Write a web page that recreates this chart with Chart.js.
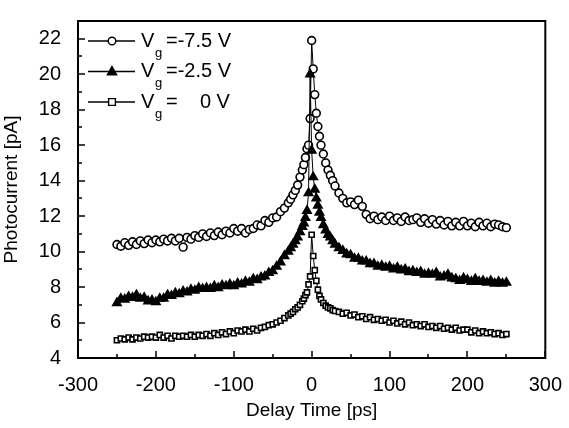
<!DOCTYPE html>
<html>
<head>
<meta charset="utf-8">
<script src="https://cdn.jsdelivr.net/npm/chart.js@4"></script>
<style>
  html, body { margin: 0; padding: 0; background: #fff; }
  #wrap { width: 569px; height: 428px; }
</style>
</head>
<body>
<div id="wrap"><canvas id="photoChart" width="569" height="428"></canvas></div>
<script>
// delay times [ps], shared by the three curves
const delay = [
  -250, -245, -240, -235, -230, -225, -220, -215, -210, -205,
  -200, -195, -190, -185, -180, -175, -170, -165, -160, -155,
  -150, -145, -140, -135, -130, -125, -120, -115, -110, -105,
  -100, -95, -90, -85, -80, -75, -70, -65, -60, -55,
  -50, -45, -40, -35, -30,
  -27, -24, -21, -18, -15, -12, -10, -8, -6, -4, -2, 0,
  2, 4, 6, 8, 10, 12, 15, 18, 21, 24, 27,
  30, 35, 40, 45, 50, 55, 60, 65, 70, 75,
  80, 85, 90, 95, 100, 105, 110, 115, 120, 125,
  130, 135, 140, 145, 150, 155, 160, 165, 170, 175,
  180, 185, 190, 195, 200, 205, 210, 215, 220, 225,
  230, 235, 240, 245, 250,
];

// photocurrent [pA], Vg = -7.5 V (open circles)
const currentVg75 = [
  10.4, 10.3, 10.5, 10.35, 10.55, 10.4, 10.6, 10.45, 10.65, 10.5,
  10.65, 10.55, 10.7, 10.6, 10.75, 10.6, 10.75, 10.25, 10.8, 10.7,
  10.9, 10.8, 11.0, 10.85, 11.05, 10.9, 11.1, 10.95, 11.15, 11.05,
  11.3, 11.15, 11.3, 11.05, 11.25, 11.3, 11.5, 11.45, 11.75, 11.65,
  11.9, 11.95, 12.25, 12.45, 12.75,
  12.95, 13.2, 13.45, 13.75, 14.2, 14.6, 14.9, 15.3, 15.8, 16.0, 17.5, 21.9,
  20.3, 18.85, 17.8, 17.05, 16.5, 16.0, 15.5, 15.0, 14.6, 14.3, 14.0,
  13.7, 13.3, 13.0, 12.75, 12.8, 12.65, 12.9, 12.55, 12.1, 11.85,
  12.0, 11.8, 11.95, 11.75, 12.0, 11.75, 11.9, 11.7, 11.95, 11.75,
  11.8, 11.9, 11.65, 11.85, 11.6, 11.8, 11.55, 11.75, 11.5, 11.7,
  11.45, 11.65, 11.45, 11.7, 11.45, 11.6, 11.4, 11.65, 11.45, 11.6,
  11.4, 11.55, 11.5, 11.4, 11.35,
];

// photocurrent [pA], Vg = -2.5 V (filled triangles)
const currentVg25 = [
  7.1, 7.35, 7.3, 7.45, 7.4, 7.55, 7.35, 7.4, 7.2, 7.25,
  7.15, 7.35, 7.35, 7.55, 7.5, 7.65, 7.6, 7.75, 7.7, 7.85,
  7.8, 7.95, 7.9, 7.95, 7.9, 8.05, 7.95, 8.1, 8.05, 8.15,
  8.05, 8.2, 8.15, 8.3, 8.25, 8.45, 8.4, 8.55, 8.6, 8.8,
  8.9, 9.15, 9.4, 9.75, 10.0,
  10.2, 10.4, 10.6, 10.8, 11.1, 11.4, 11.6, 11.9, 12.3, 13.3, 20.0, 15.7,
  14.2, 13.5, 13.0, 12.6, 12.2, 11.9, 11.5, 11.2, 10.95, 10.8, 10.6,
  10.4, 10.2, 10.05, 9.85, 9.8, 9.6, 9.6, 9.45, 9.45, 9.3,
  9.3, 9.15, 9.2, 9.1, 9.15, 9.0, 9.1, 8.95, 9.0, 8.85,
  8.9, 8.8, 8.85, 8.7, 8.75, 8.7, 8.8, 8.55, 8.6, 8.7,
  8.5, 8.45, 8.35, 8.5, 8.4, 8.3, 8.45, 8.3, 8.35, 8.25,
  8.35, 8.2, 8.3, 8.2, 8.25,
];

// photocurrent [pA], Vg = 0 V (open squares)
const currentVg0 = [
  5.0, 5.1, 5.05, 5.15, 5.05, 5.15, 5.1, 5.2, 5.15, 5.2,
  5.15, 5.3, 5.15, 5.25, 5.1, 5.25, 5.2, 5.25, 5.2, 5.3,
  5.2, 5.3, 5.25, 5.35, 5.25, 5.4, 5.3, 5.45, 5.35, 5.5,
  5.4, 5.55, 5.5, 5.6, 5.5, 5.65, 5.55, 5.7, 5.75, 5.85,
  5.9, 6.0, 6.1, 6.25, 6.4,
  6.5, 6.6, 6.75, 6.85, 7.0, 7.2, 7.35, 7.55, 7.7, 8.15, 8.6, 10.95,
  9.75, 8.95, 8.35, 7.85, 7.5, 7.3, 7.1, 6.95, 6.85, 6.8, 6.7,
  6.65, 6.6, 6.5, 6.55, 6.4, 6.45, 6.3, 6.35, 6.2, 6.3,
  6.15, 6.2, 6.1, 6.15, 6.0, 6.1, 5.95, 6.05, 5.9, 6.0,
  5.85, 5.9, 5.8, 5.9, 5.75, 5.8, 5.7, 5.8, 5.65, 5.7,
  5.6, 5.7, 5.55, 5.6, 5.6, 5.45, 5.55, 5.4, 5.5, 5.4,
  5.45, 5.35, 5.4, 5.3, 5.35,
];

const xTicks = [-300, -200, -100, 0, 100, 200, 300];
const yTicks = [4, 6, 8, 10, 12, 14, 16, 18, 20, 22];
const legendText = ["=-7.5 V", "=-2.5 V", "=    0 V"];

const FONT = "'Liberation Sans', Arial, sans-serif";

function toPoints(ys) {
  return delay.map((x, i) => ({ x: x, y: ys[i] }));
}

function drawMarker(ctx, style, x, y) {
  ctx.beginPath();
  if (style === "circle") {
    ctx.arc(x, y, 3.8, 0, Math.PI * 2);
    ctx.fillStyle = "#fff";
  } else if (style === "triangle") {
    ctx.moveTo(x, y - 5);
    ctx.lineTo(x + 4.6, y + 3.3);
    ctx.lineTo(x - 4.6, y + 3.3);
    ctx.closePath();
    ctx.fillStyle = "#000";
  } else {
    ctx.rect(x - 3.4, y - 3.4, 6.8, 6.8);
    ctx.fillStyle = "#fff";
  }
  ctx.fill();
  ctx.stroke();
}

const markerStyles = ["circle", "triangle", "rect"];

const framePlugin = {
  id: "frame",
  afterDraw(chart) {
    const { ctx, chartArea: a, scales } = chart;
    ctx.save();
    ctx.strokeStyle = "#000";

    // tick marks point into the plot
    ctx.lineWidth = 1.5;
    ctx.beginPath();
    for (let v = -300; v <= 300; v += 50) {
      const px = Math.round(scales.x.getPixelForValue(v));
      const len = xTicks.includes(v) ? 7 : 4;
      ctx.moveTo(px, a.bottom);
      ctx.lineTo(px, a.bottom - len);
    }
    for (let v = 4; v <= 23; v += 1) {
      const py = Math.round(scales.y.getPixelForValue(v));
      const len = yTicks.includes(v) ? 7 : 4;
      ctx.moveTo(a.left, py);
      ctx.lineTo(a.left + len, py);
    }
    ctx.stroke();

    ctx.lineWidth = 2;
    ctx.strokeRect(a.left, a.top, a.right - a.left, a.bottom - a.top);

    // legend, top left inside the box
    const lx = a.left + 10;
    legendText.forEach((txt, i) => {
      const ly = a.top + 20 + i * 30.5;
      ctx.lineWidth = 1.3;
      ctx.strokeStyle = "#000";
      ctx.beginPath();
      ctx.moveTo(lx, ly);
      ctx.lineTo(lx + 47, ly);
      ctx.stroke();
      ctx.lineWidth = 1.4;
      drawMarker(ctx, markerStyles[i], lx + 24, ly);

      ctx.fillStyle = "#000";
      ctx.textBaseline = "middle";
      ctx.textAlign = "left";
      ctx.font = "20px " + FONT;
      ctx.fillText("V", lx + 53, ly);
      ctx.font = "13px " + FONT;
      ctx.fillText("g", lx + 67, ly + 12);
      ctx.font = "20px " + FONT;
      ctx.fillText(txt, lx + 78, ly);
    });
    ctx.restore();
  },
};

const seriesDef = [
  { label: "Vg=0 V", data: currentVg0, style: "rect", fill: "#fff", r: 3.6 },
  { label: "Vg=-2.5 V", data: currentVg25, style: "triangle", fill: "#000", r: 4.8 },
  { label: "Vg=-7.5 V", data: currentVg75, style: "circle", fill: "#fff", r: 3.9 },
];

const ctx = document.getElementById("photoChart").getContext("2d");
new Chart(ctx, {
  type: "line",
  data: {
    datasets: seriesDef.map((s) => ({
      label: s.label,
      data: toPoints(s.data),
      borderColor: "#000",
      borderWidth: 1,
      tension: 0,
      pointStyle: s.style,
      pointRadius: s.r,
      pointBackgroundColor: s.fill,
      pointBorderColor: "#000",
      pointBorderWidth: 1.6,
      fill: false,
    })),
  },
  options: {
    responsive: false,
    animation: false,
    devicePixelRatio: 1,
    layout: { padding: { top: 8, right: 18, left: 0, bottom: 0 } },
    plugins: { legend: { display: false }, tooltip: { enabled: false } },
    scales: {
      x: {
        type: "linear",
        min: -300,
        max: 300,
        afterBuildTicks: (s) => { s.ticks = xTicks.map((v) => ({ value: v })); },
        afterFit: (s) => { s.height = 70; },
        grid: { display: false },
        border: { display: false },
        ticks: { color: "#000", padding: 7, maxRotation: 0, font: { family: FONT, size: 20 } },
        title: {
          display: true,
          text: "Delay Time [ps]",
          color: "#000",
          font: { family: FONT, size: 19 },
          padding: { top: 0, bottom: 6 },
        },
      },
      y: {
        min: 4,
        max: 23,
        afterBuildTicks: (s) => { s.ticks = yTicks.map((v) => ({ value: v })); },
        afterFit: (s) => { s.width = 78; },
        grid: { display: false },
        border: { display: false },
        ticks: { color: "#000", padding: 9, font: { family: FONT, size: 20 } },
        title: {
          display: true,
          text: "Photocurrent [pA]",
          color: "#000",
          font: { family: FONT, size: 19 },
          padding: { top: 0, bottom: 4 },
        },
      },
    },
  },
  plugins: [framePlugin],
});
</script>
</body>
</html>
